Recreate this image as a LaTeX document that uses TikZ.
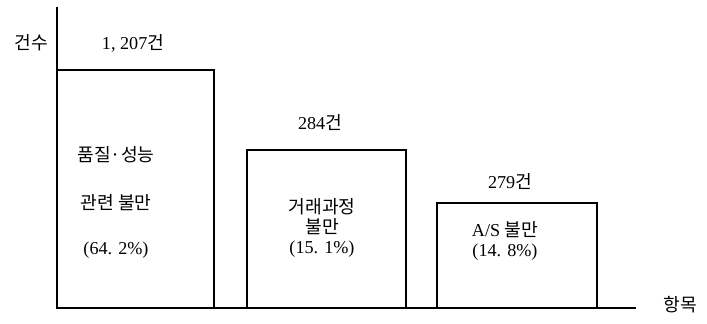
\documentclass[tikz,border=0pt]{standalone}
\usepackage{fontspec}
\setmainfont{Liberation Serif}
\newfontfamily\kr{Noto Sans CJK KR}
\tikzset{
  lbl/.style={inner sep=0pt, font=\fontsize{15.5}{18}\selectfont},
  bar/.style={line width=1.1pt}
}
\begin{document}
\begin{tikzpicture}[x=0.03cm, y=-0.03cm]
        \useasboundingbox (0, 0) rectangle (707, 323);
        % axes
        \draw[bar] (57, 7) -- (57, 308) -- (636, 308);
        \node[lbl] (yname) at (31, 43) {\kr 건수};
        \node[lbl] (xname) at (680, 305) {\kr 항목};
        % bars
        \draw[bar] (57, 70) rectangle (214, 308);
        \draw[bar] (247, 150) rectangle (406, 308);
        \draw[bar] (437, 203) rectangle (597, 308);
        % counts
        \node[lbl] (n1) at (133, 43) {1, 207{\kr 건}};
        \node[lbl] (n2) at (320, 123) {284{\kr 건}};
        \node[lbl] (n3) at (510, 182) {279{\kr 건}};
        % bar texts
        \node[lbl] (a1) at (116, 155) {\kr 품질·성능};
        \node[lbl] (a2) at (116, 203) {\kr 관련 불만};
        \node[lbl] (a3) at (116, 250) {(64. 2\%)};
        \node[lbl] (b1) at (322, 207) {\kr 거래과정};
        \node[lbl] (b2) at (322, 227) {\kr 불만};
        \node[lbl] (b3) at (322, 249) {(15. 1\%)};
        \node[lbl] (c1) at (505, 230) {A/S {\kr 불만}};
        \node[lbl] (c2) at (505, 252) {(14. 8\%)};
      \end{tikzpicture}
\end{document}
